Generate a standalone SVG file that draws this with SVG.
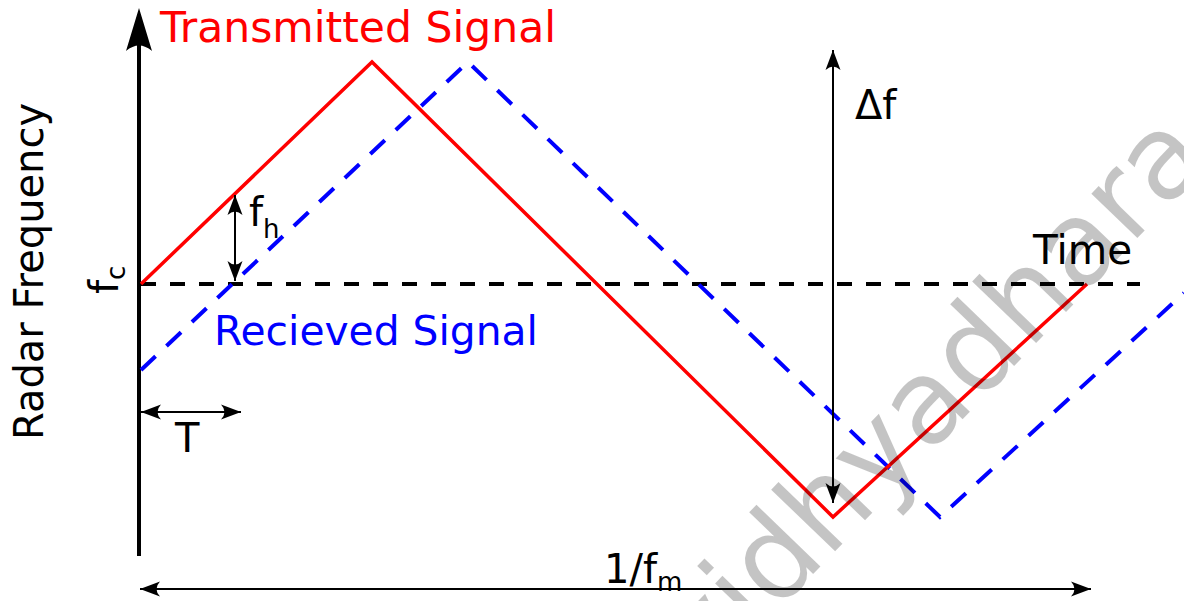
<svg xmlns="http://www.w3.org/2000/svg" width="1184" height="601" viewBox="0 0 1184 601">
  <style>
    text { font-family: "DejaVu Sans", "Noto Sans", sans-serif; }
    .lbl { font-size: 40px; }
    .blk { fill: #000; }
    .thin { stroke: #000; stroke-width: 2; fill: none; }
    .sig-t { stroke: #ff0000; stroke-width: 3.5; fill: none; stroke-linejoin: miter; }
    .sig-r { stroke: #0000ff; stroke-width: 4; fill: none; stroke-dasharray: 20 15; }
    .axis-dash { stroke: #000; stroke-width: 4; stroke-dasharray: 15 14; fill: none; }
    .sub { font-size: 26px; }
    .wm { font-size: 117px; fill: #000; fill-opacity: 0.23; }
  </style>
  <defs>
    <marker id="ah" markerUnits="userSpaceOnUse" viewBox="-22 -9 24 18" refX="0" refY="0" markerWidth="24" markerHeight="18" orient="auto-start-reverse">
      <path d="M 0 0 L -20 -7.5 Q -13 0 -20 7.5 Z" fill="#000"/>
    </marker>
  </defs>

  <g id="axes">
    <line x1="139" y1="556" x2="139" y2="30" stroke="#000" stroke-width="4"/>
    <path d="M 139 8 L 152 51 Q 139 40 126 51 Z" fill="#000"/>
    <line class="axis-dash" x1="141" y1="284" x2="1140" y2="284"/>
  </g>

  <g id="received-signal">
    <polyline class="sig-r" points="141,370 468,62 940,517 1184,293"/>
  </g>

  <g id="transmitted-signal">
    <polyline class="sig-t" points="141,284 372,62 833,517 1087,284"/>
  </g>

  <g id="connectors">
    <line class="thin" x1="833" y1="50" x2="833" y2="503" marker-start="url(#ah)" marker-end="url(#ah)"/>
    <line class="thin" x1="235" y1="195" x2="235" y2="281" marker-start="url(#ah)" marker-end="url(#ah)"/>
    <line class="thin" x1="141" y1="412" x2="241" y2="412" marker-start="url(#ah)" marker-end="url(#ah)"/>
    <line class="thin" x1="140" y1="589" x2="1091" y2="589" marker-start="url(#ah)" marker-end="url(#ah)"/>
  </g>

  <g id="labels">
    <text id="lbl-transmitted" x="160" y="42" style="font-size:42.5px" fill="#ff0000">Transmitted Signal</text>
    <text id="lbl-received" x="214" y="345" style="font-size:40.8px" fill="#0000ff">Recieved Signal</text>
    <text id="lbl-time" class="blk" x="1033" y="264" style="font-size:40.5px">Time</text>
    <text id="lbl-deltaf" class="lbl blk" x="855" y="119">Δf</text>
    <text id="lbl-fh" class="lbl blk" x="249" y="226">f<tspan class="sub" dy="12">h</tspan></text>
    <text id="lbl-T" class="lbl blk" x="175" y="452">T</text>
    <text id="lbl-fm" class="lbl blk" x="604" y="583">1/f<tspan class="sub" dy="8">m</tspan></text>
    <text id="lbl-radar" class="lbl blk" transform="translate(43,440) rotate(-90)">Radar Frequency</text>
    <text id="lbl-fc" class="lbl blk" transform="translate(118,294) rotate(-90)">f<tspan class="sub" dy="7">c</tspan></text>
  </g>

  <g id="watermark">
    <text class="wm" transform="translate(705.5,685.5) rotate(-46)">vidhyadhara</text>
  </g>
</svg>
